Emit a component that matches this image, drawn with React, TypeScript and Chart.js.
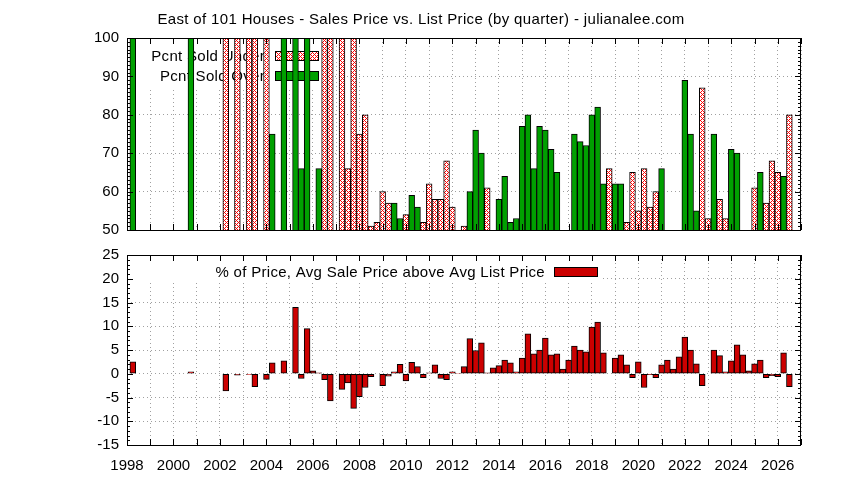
import { useEffect, useRef } from "react";
import { Chart, registerables } from "chart.js";

Chart.register(...registerables);

const FONT = '"Liberation Sans", Arial, sans-serif';
const TITLE = "East of 101 Houses - Sales Price vs. List Price (by quarter) - julianalee.com";

const startYear = 1998;
const endYear = 2027;

// one value per quarter, 1998.00 up to 2027.00 (4 per row = one year)
const pcntSoldUnder = [
  null, null, null, null, // 1998
  null, null, null, null, // 1999
  null, null, null, null, // 2000
  null, null, null, null, // 2001
  null, 100, null, 100, // 2002
  null, 100, 100, null, // 2003
  100, null, null, null, // 2004
  null, null, null, null, // 2005
  null, null, 100, 100, // 2006
  null, 100, 66, 100, // 2007
  75, 80, 51, 52, // 2008
  60, 57, null, null, // 2009
  54, null, null, 52, // 2010
  62, 58, 58, 68, // 2011
  56, null, 51, null, // 2012
  null, null, 61, null, // 2013
  null, null, null, null, // 2014
  null, null, null, null, // 2015
  null, null, null, null, // 2016
  null, null, null, null, // 2017
  null, null, null, 66, // 2018
  null, null, 52, 65, // 2019
  55, 66, 56, 60, // 2020
  null, null, null, null, // 2021
  null, null, null, 87, // 2022
  53, null, 58, 53, // 2023
  null, null, null, null, // 2024
  61, null, 57, 68, // 2025
  65, null, 80, null, // 2026
  null, // 2027
];

const pcntSoldOver = [
  null, 100, null, null, // 1998
  null, null, null, null, // 1999
  null, null, null, 100, // 2000
  null, null, null, null, // 2001
  null, null, null, null, // 2002
  null, null, null, null, // 2003
  null, 75, null, 100, // 2004
  null, 100, 66, 100, // 2005
  null, 66, null, null, // 2006
  null, null, null, null, // 2007
  null, null, null, null, // 2008
  null, null, 57, 53, // 2009
  null, 59, 56, null, // 2010
  null, null, null, null, // 2011
  null, null, null, 60, // 2012
  76, 70, null, null, // 2013
  58, 64, 52, 53, // 2014
  77, 80, 66, 77, // 2015
  76, 71, 65, null, // 2016
  null, 75, 73, 72, // 2017
  80, 82, 62, null, // 2018
  62, 62, null, null, // 2019
  null, null, null, null, // 2020
  66, null, null, null, // 2021
  89, 75, 55, null, // 2022
  null, 75, null, null, // 2023
  71, 70, null, null, // 2024
  null, 65, null, null, // 2025
  null, 64, null, null, // 2026
  null, // 2027
];

const pctAboveList = [
  null, 2.5, null, null, // 1998
  null, null, null, null, // 1999
  null, null, null, 0.4, // 2000
  null, null, null, null, // 2001
  null, -3.6, null, -0.3, // 2002
  null, -0.15, -2.7, null, // 2003
  -1.2, 2.3, null, 2.7, // 2004
  null, 14, -1.0, 9.5, // 2005
  0.6, 0.2, -1.25, -5.7, // 2006
  null, -3.3, -1.95, -7.3, // 2007
  -4.8, -2.9, -0.6, null, // 2008
  -2.5, -0.5, 0.4, 2.0, // 2009
  -1.5, 2.4, 1.5, -0.8, // 2010
  0.2, 1.9, -1.0, -1.25, // 2011
  0.4, 0.1, 1.5, 7.4, // 2012
  4.9, 6.5, 0.2, 1.25, // 2013
  1.7, 2.9, 2.3, 0.4, // 2014
  3.3, 8.4, 4.2, 5.0, // 2015
  7.5, 4.0, 4.2, 1.0, // 2016
  2.9, 5.8, 5.0, 4.6, // 2017
  9.8, 10.9, 4.4, null, // 2018
  3.3, 4.0, 1.9, -0.8, // 2019
  2.5, -2.9, -0.2, -0.8, // 2020
  1.9, 2.9, 1.0, 3.55, // 2021
  7.7, 5.0, 2.1, -2.5, // 2022
  null, 5.0, 3.8, 0.4, // 2023
  2.7, 6.1, 4.0, 0.6, // 2024
  2.1, 2.9, -0.8, -0.4, // 2025
  -0.6, 4.4, -2.7, null, // 2026
  null, // 2027
];

const quarterX = (i: number) => startYear + i / 4;
const toPoints = (vals: (number | null)[]) => vals.map((v, i) => ({ x: quarterX(i), y: v }));

// red-on-white crosshatch, like gnuplot's fill pattern
function makeHatch(ctx: CanvasRenderingContext2D) {
  const tile = document.createElement("canvas");
  tile.width = 4;
  tile.height = 4;
  const t = tile.getContext("2d")!;
  t.fillStyle = "#fff";
  t.fillRect(0, 0, 4, 4);
  t.fillStyle = "#ff0000";
  for (let i = 0; i < 4; i++)
    for (let j = 0; j < 4; j++) if ((i + j) % 4 === 0 || (i - j + 4) % 4 === 0) t.fillRect(i, j, 1, 1);
  return ctx.createPattern(tile, "repeat")!;
}

// gnuplot-ish frame with inward ticks on all four sides
const framePlugin = {
  id: "frame",
  afterDatasetsDraw(chart: any) {
    const { ctx, chartArea: a, scales } = chart;
    const x = scales.x;
    const y = scales.y;
    const step = chart.options.scales.y.ticks.stepSize;
    ctx.save();
    ctx.strokeStyle = "#000";
    ctx.lineWidth = 1;
    ctx.beginPath();
    for (let yr = x.min; yr <= x.max; yr++) {
      const px = Math.round(x.getPixelForValue(yr)) + 0.5;
      ctx.moveTo(px, a.bottom);
      ctx.lineTo(px, a.bottom - 6);
      ctx.moveTo(px, a.top);
      ctx.lineTo(px, a.top + 6);
    }
    for (let v = y.min; v <= y.max; v++) {
      const len = (v - y.min) % step === 0 ? 6 : 3;
      const py = Math.round(y.getPixelForValue(v)) + 0.5;
      ctx.moveTo(a.left, py);
      ctx.lineTo(a.left + len, py);
      ctx.moveTo(a.right, py);
      ctx.lineTo(a.right - len, py);
    }
    ctx.stroke();
    ctx.strokeRect(Math.round(a.left) + 0.5, Math.round(a.top) + 0.5, Math.round(a.width) - 1, Math.round(a.height));
    ctx.restore();
  },
};

type KeyOpts = {
  box: [number, number, number, number];
  textRight: number;
  sample: [number, number];
  rows: number[];
  title?: string;
};

function keyPlugin(key: KeyOpts) {
  return {
    id: "gpkey",
    beforeDatasetsDraw(chart: any) {
      const { ctx } = chart;
      const [l, t, r, b] = key.box;
      ctx.save();
      ctx.fillStyle = "#fff";
      ctx.fillRect(l, t, r - l, b - t);
      ctx.font = `15px ${FONT}`;
      ctx.letterSpacing = "0.3px";
      ctx.textAlign = "right";
      ctx.textBaseline = "alphabetic";
      ctx.lineWidth = 1;
      ctx.strokeStyle = "#000";
      chart.data.datasets.forEach((ds: any, i: number) => {
        const base = key.rows[i];
        ctx.fillStyle = "#000";
        ctx.fillText(ds.label, key.textRight, base);
        const [sl, sr] = key.sample;
        const top = Math.round(base - 10);
        ctx.fillStyle = ds.backgroundColor;
        ctx.fillRect(sl, top, sr - sl, 9);
        ctx.strokeRect(sl + 0.5, top + 0.5, sr - sl, 9);
      });
      ctx.restore();
    },
    afterDraw(chart: any) {
      if (!key.title) return;
      const { ctx } = chart;
      ctx.save();
      ctx.font = `15px ${FONT}`;
      ctx.letterSpacing = "0.35px";
      ctx.fillStyle = "#000";
      ctx.textAlign = "center";
      ctx.textBaseline = "alphabetic";
      ctx.fillText(key.title, 421, 24);
      ctx.restore();
    },
  };
}

const tickFont = { family: FONT, size: 15 };

function xAxis(showLabels: boolean) {
  return {
    type: "linear" as const,
    min: startYear,
    max: endYear,
    offset: false,
    grid: { color: "#a0a0a0", drawTicks: false, offset: false },
    border: { display: false, dash: [1, 3] },
    ticks: {
      stepSize: 1,
      autoSkip: false,
      maxRotation: 0,
      padding: 12,
      color: "#000",
      font: tickFont,
      callback: (v: any) => (showLabels && Number(v) % 2 === 0 ? String(v) : ""),
    },
    afterFit: (s: any) => {
      s.height = showLabels ? 35 : 0;
      s.paddingLeft = 0;
      s.paddingRight = 0;
    },
  };
}

function yAxis(min: number, max: number, step: number) {
  return {
    min,
    max,
    grid: { color: "#a0a0a0", drawTicks: false },
    border: { display: false, dash: [1, 3] },
    ticks: { stepSize: step, padding: 8, color: "#000", font: tickFont },
    afterFit: (s: any) => {
      s.width = 127;
      s.paddingTop = 0;
      s.paddingBottom = 0;
    },
  };
}

const barStyle = {
  borderColor: "#000",
  borderWidth: 1,
  borderSkipped: false,
  barPercentage: 1,
  categoryPercentage: 1,
  grouped: false,
};

export default function App() {
  const topRef = useRef<HTMLCanvasElement>(null);
  const bottomRef = useRef<HTMLCanvasElement>(null);

  useEffect(() => {
    document.body.style.margin = "0";
    if (!topRef.current || !bottomRef.current) return;
    const hatch = makeHatch(topRef.current.getContext("2d")!);

    const topChart = new Chart(topRef.current, {
      type: "bar",
      data: {
        datasets: [
          { label: "Pcnt Sold Under", data: toPoints(pcntSoldUnder) as any, backgroundColor: hatch, ...barStyle },
          { label: "Pcnt Sold Over", data: toPoints(pcntSoldOver) as any, backgroundColor: "#00a000", ...barStyle },
        ],
      },
      options: {
        responsive: false,
        animation: false,
        events: [],
        layout: { padding: { left: 0, top: 38, right: 43, bottom: 10 } },
        plugins: { legend: { display: false }, tooltip: { enabled: false } },
        scales: { x: xAxis(false) as any, y: yAxis(50, 100, 10) as any },
      },
      plugins: [
        keyPlugin({ box: [127, 38, 335, 88], textRight: 265, sample: [275, 318], rows: [61, 80.5], title: TITLE }),
        framePlugin,
      ],
    });

    const bottomChart = new Chart(bottomRef.current, {
      type: "bar",
      data: {
        datasets: [
          {
            label: "% of Price, Avg Sale Price above Avg List Price",
            data: toPoints(pctAboveList) as any,
            backgroundColor: "#cc0000",
            ...barStyle,
          },
        ],
      },
      options: {
        responsive: false,
        animation: false,
        events: [],
        layout: { padding: { left: 0, top: 15, right: 43, bottom: 0 } },
        plugins: { legend: { display: false }, tooltip: { enabled: false } },
        scales: { x: xAxis(true) as any, y: yAxis(-15, 25, 5) as any },
      },
      plugins: [keyPlugin({ box: [127, 15, 600, 43], textRight: 545, sample: [554, 597], rows: [37] }), framePlugin],
    });

    return () => {
      topChart.destroy();
      bottomChart.destroy();
    };
  }, []);

  return (
    <div style={{ position: "relative", width: 844, height: 480, background: "#fff" }}>
      <canvas ref={topRef} width={844} height={240} style={{ position: "absolute", left: 0, top: 0 }} />
      <canvas ref={bottomRef} width={844} height={240} style={{ position: "absolute", left: 0, top: 240 }} />
    </div>
  );
}
